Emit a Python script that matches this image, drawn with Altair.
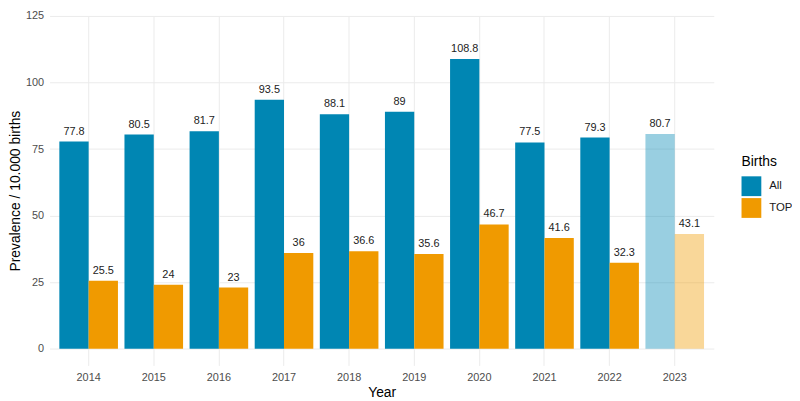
import altair as alt
import pandas as pd

years = ["2014", "2015", "2016", "2017", "2018", "2019", "2020", "2021", "2022", "2023"]
all_births = [77.8, 80.5, 81.7, 93.5, 88.1, 89, 108.8, 77.5, 79.3, 80.7]
top_births = [25.5, 24, 23, 36, 36.6, 35.6, 46.7, 41.6, 32.3, 43.1]
groups = ["All", "TOP"]
provisional_year = "2023"

rows = []
for y, a, t in zip(years, all_births, top_births):
    for g, v in zip(groups, [a, t]):
        rows.append({"Year": y, "Births": g, "value": v, "label": f"{v:g}"})
df = pd.DataFrame(rows)

FONT = "Liberation Sans"

x = alt.X("Year:N", title="Year",
          scale=alt.Scale(paddingInner=0.1, paddingOuter=0.15),
          axis=alt.Axis(labelAngle=0, ticks=False, domain=False, grid=True,
                        gridColor="#EBEBEB", gridWidth=1, labelPadding=6,
                        labelFontSize=11, labelColor="#4D4D4D", titleFontSize=14,
                        titleColor="#000000", titleFontWeight="normal", titlePadding=3,
                        labelFont=FONT, titleFont=FONT))
xoff = alt.XOffset("Births:N", scale=alt.Scale(paddingInner=0, paddingOuter=0))
yvals = [0, 12.5, 25, 37.5, 50, 62.5, 75, 87.5, 100, 112.5, 125]
y = alt.Y("value:Q", title="Prevalence / 10.000 births",
          scale=alt.Scale(domain=[-6.25, 125], nice=False, zero=False),
          axis=alt.Axis(values=yvals, labelExpr="datum.value % 25 == 0 ? datum.label : ''",
                        ticks=False, domain=False, grid=True, gridColor="#EBEBEB",
                        gridWidth=1, labelPadding=6, labelFontSize=11,
                        labelColor="#4D4D4D", titleFontSize=14, titleColor="#000000",
                        titleFontWeight="normal", titlePadding=3,
                        labelFont=FONT, titleFont=FONT))

color = alt.Color("Births:N", title="Births",
                  scale=alt.Scale(domain=groups, range=["#0086B3", "#F09A00"]),
                  legend=alt.Legend(orient="none", legendX=699, legendY=141,
                                    symbolType="square", symbolSize=400,
                                    symbolStrokeWidth=0, symbolOpacity=1,
                                    rowPadding=2, labelOffset=8, titlePadding=7,
                                    titleFontSize=14, titleFontWeight="normal",
                                    titleColor="#000000", labelFontSize=11.5,
                                    labelColor="#1A1A1A", titleFont=FONT, labelFont=FONT))

bars = alt.Chart(df).mark_bar().encode(
    x=x, xOffset=xoff, y=y, y2=alt.datum(0), color=color,
    opacity=alt.condition(f"datum.Year == '{provisional_year}'", alt.value(0.4), alt.value(1)),
)

labels = alt.Chart(df).mark_text(baseline="alphabetic", dy=-7, fontSize=11,
                                 color="#222222", font=FONT).encode(
    x=x, xOffset=xoff, y="value:Q", text="label:N",
)

chart = alt.layer(bars, labels).properties(
    width=671, height=353,
    autosize=alt.AutoSizeParams(type="none"),
    padding={"left": 42, "top": 6, "right": 79, "bottom": 40},
    background="#FFFFFF",
).configure_view(stroke=None)

chart.save("out.html", embed_options={"renderer": "svg", "actions": False})
